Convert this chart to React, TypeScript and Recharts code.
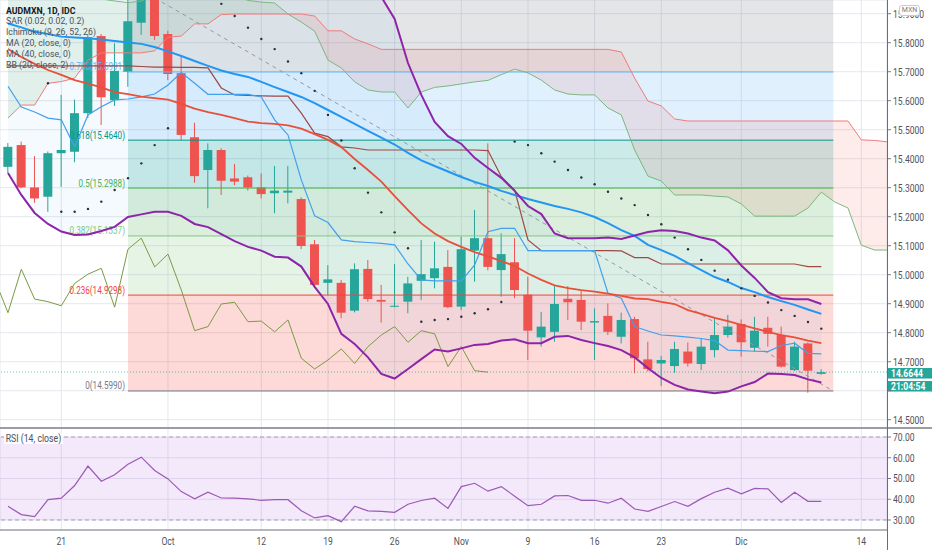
import React from 'react';
import {
  ComposedChart, Line, Area, Bar, XAxis, YAxis, CartesianGrid,
  ReferenceArea, ReferenceLine,
} from 'recharts';

// ---------------- data ----------------
// trading-day index: 0 = Mon 14 Sep 2020 ... 62 = Wed 9 Dec 2020, 63..67 = future bars (cloud only)
const dateTicks = [5, 13, 20, 25, 30, 35, 40, 45, 50, 56, 65];
const dateTickLabels = ['21', 'Oct', '12', '19', '26', 'Nov', '9', '16', '23', 'Dic', '14'];
const priceTicks = [14.5, 14.6, 14.7, 14.8, 14.9, 15.0, 15.1, 15.2, 15.3, 15.4, 15.5, 15.6, 15.7, 15.8, 15.9];
const rsiTicks = [30, 40, 50, 60, 70];

const opens = [null,
  15.372, 15.447, 15.301, 15.269, 15.419, 15.424, 15.557, 15.823, 15.602, 15.700,
  15.869, 16.010, 15.830, 15.695, 15.474, 15.361, 15.430, 15.332, 15.336, 15.301,
  15.281, 15.283, 15.261, 15.105, 14.972, 14.972, 14.876, 15.020, 14.913, 14.890,
  14.907, 14.979, 14.988, 15.027, 14.890, 15.083, 15.126, 15.016, 15.043, 14.931,
  14.784, 14.803, 14.917, 14.913, 14.835, 14.858, 14.786, 14.847, 14.708, 14.694,
  14.685, 14.735, 14.692, 14.740, 14.792, 14.830, 14.748, 14.817, 14.792, 14.671,
  14.763, 14.658];
const closes = [null,
  15.441, 15.301, 15.263, 15.419, 15.430, 15.557, 15.819, 15.612, 15.703, 15.874,
  16.020, 15.823, 15.692, 15.482, 15.340, 15.430, 15.324, 15.321, 15.301, 15.278,
  15.290, 15.290, 15.099, 14.965, 14.984, 14.869, 15.019, 14.916, 14.907, 14.893,
  14.970, 15.002, 15.022, 14.888, 15.088, 15.126, 15.027, 15.071, 14.947, 14.807,
  14.821, 14.899, 14.905, 14.838, 14.840, 14.803, 14.844, 14.712, 14.675, 14.706,
  14.744, 14.694, 14.752, 14.792, 14.821, 14.767, 14.807, 14.796, 14.683, 14.752,
  14.669, 14.664];
const highs = [null,
  15.454, 15.459, 15.409, 15.425, 15.620, 15.604, 15.830, 15.830, 15.798, 15.980,
  16.050, 16.040, 15.841, 15.752, 15.524, 15.453, 15.436, 15.382, 15.342, 15.349,
  15.375, 15.375, 15.267, 15.120, 15.033, 14.982, 15.039, 15.051, 14.965, 15.037,
  14.993, 15.120, 15.114, 15.085, 15.131, 15.223, 15.453, 15.143, 15.126, 14.993,
  14.872, 14.964, 14.961, 14.947, 14.884, 14.901, 14.869, 14.855, 14.769, 14.720,
  14.769, 14.766, 14.781, 14.850, 14.861, 14.846, 14.855, 14.855, 14.821, 14.769,
  14.767, 14.674];
const lows = [null,
  15.351, 15.298, 15.248, 15.217, 15.303, 15.388, 15.540, 15.516, 15.582, 15.648,
  15.827, 15.809, 15.671, 15.464, 15.317, 15.229, 15.275, 15.309, 15.290, 15.263,
  15.212, 15.246, 15.088, 14.960, 14.930, 14.850, 14.870, 14.907, 14.835, 14.888,
  14.867, 14.913, 14.953, 14.885, 14.878, 14.976, 15.015, 14.924, 14.919, 14.706,
  14.752, 14.769, 14.844, 14.809, 14.706, 14.792, 14.763, 14.660, 14.666, 14.616,
  14.662, 14.683, 14.671, 14.715, 14.783, 14.717, 14.735, 14.752, 14.680, 14.668,
  14.593, 14.655];

const ma20 = [null,
  15.778, 15.751, 15.727, 15.706, 15.689, 15.671, 15.659, 15.646, 15.630, 15.623,
  15.614, 15.609, 15.604, 15.589, 15.573, 15.561, 15.551, 15.540, 15.528, 15.523,
  15.520, 15.515, 15.504, 15.485, 15.465, 15.440, 15.399, 15.361, 15.321, 15.271,
  15.223, 15.177, 15.142, 15.116, 15.096, 15.078, 15.063, 15.047, 15.030, 15.004,
  14.982, 14.963, 14.954, 14.947, 14.942, 14.935, 14.927, 14.918, 14.916, 14.906,
  14.899, 14.878, 14.865, 14.851, 14.840, 14.827, 14.815, 14.803, 14.792, 14.784,
  14.773, 14.764];
const ma40 = [null,
  15.866, 15.853, 15.838, 15.830, 15.821, 15.818, 15.815, 15.811, 15.806, 15.801,
  15.796, 15.785, 15.770, 15.754, 15.737, 15.720, 15.704, 15.692, 15.682, 15.665,
  15.647, 15.630, 15.613, 15.592, 15.568, 15.544, 15.520, 15.496, 15.473, 15.449,
  15.420, 15.394, 15.375, 15.356, 15.337, 15.320, 15.306, 15.289, 15.275, 15.261,
  15.249, 15.237, 15.227, 15.215, 15.199, 15.178, 15.154, 15.134, 15.103, 15.085,
  15.065, 15.040, 15.016, 14.992, 14.975, 14.954, 14.940, 14.923, 14.909, 14.896,
  14.880, 14.865];
const bbUpper = [null,
  16.14, 16.15, 16.16, 16.16, 16.16, 16.17, 16.20, 16.22, 16.24, 16.27,
  16.30, 16.32, 16.33, 16.33, 16.33, 16.32, 16.31, 16.30, 16.29, 16.28,
  16.27, 16.26, 16.25, 16.23, 16.20, 16.15, 16.10, 16.03, 15.958, 15.882,
  15.730, 15.620, 15.527, 15.478, 15.451, 15.403, 15.368, 15.334, 15.289, 15.237,
  15.209, 15.142, 15.126, 15.126, 15.126, 15.128, 15.123, 15.135, 15.147, 15.153,
  15.151, 15.142, 15.128, 15.118, 15.084, 15.032, 14.989, 14.940, 14.919, 14.915,
  14.915, 14.899];
const bbLower = [null,
  15.351, 15.275, 15.213, 15.175, 15.149, 15.137, 15.139, 15.151, 15.165, 15.199,
  15.208, 15.217, 15.217, 15.203, 15.175, 15.164, 15.140, 15.116, 15.096, 15.083,
  15.062, 15.059, 15.028, 14.958, 14.899, 14.796, 14.761, 14.715, 14.658, 14.642,
  14.675, 14.709, 14.742, 14.735, 14.746, 14.758, 14.761, 14.773, 14.777, 14.764,
  14.764, 14.786, 14.789, 14.775, 14.764, 14.754, 14.740, 14.715, 14.678, 14.644,
  14.620, 14.604, 14.597, 14.591, 14.597, 14.615, 14.630, 14.659, 14.658, 14.654,
  14.639, 14.628];

const tenkan = [null,
  15.650, 15.578, 15.561, 15.540, 15.534, 15.441, 15.551, 15.579, 15.603, 15.606,
  15.613, 15.623, 15.654, 15.697, 15.660, 15.622, 15.622, 15.622, 15.622, 15.613,
  15.534, 15.482, 15.327, 15.203, 15.180, 15.120, 15.114, 15.111, 15.108, 15.103,
  15.037, 14.982, 14.979, 14.979, 14.979, 15.034, 15.148, 15.160, 15.160, 15.083,
  15.083, 15.083, 15.083, 15.083, 15.083, 14.936, 14.919, 14.821, 14.806, 14.792,
  14.789, 14.785, 14.780, 14.773, 14.740, 14.738, 14.736, 14.735, 14.756, 14.764,
  14.729, 14.727];
const kijun = [null,
  15.720, 15.720, 15.720, 15.720, 15.720, 15.720, 15.720, 15.720, 15.720, 15.720,
  15.718, 15.716, 15.716, 15.715, 15.715, 15.713, 15.644, 15.620, 15.618, 15.617,
  15.616, 15.616, 15.557, 15.488, 15.476, 15.441, 15.437, 15.430, 15.430, 15.430,
  15.430, 15.430, 15.430, 15.430, 15.430, 15.430, 15.428, 15.338, 15.292, 15.120,
  15.083, 15.083, 15.083, 15.083, 15.083, 15.083, 15.082, 15.059, 15.059, 15.037,
  15.037, 15.037, 15.037, 15.037, 15.037, 15.037, 15.037, 15.037, 15.037, 15.037,
  15.028, 15.028];
const chikou = [
  14.984, 14.869, 15.019, 14.916, 14.907, 14.893, 14.970, 15.002, 15.022, 14.888,
  15.088, 15.126, 15.027, 15.071, 14.947, 14.807, 14.821, 14.899, 14.905, 14.838,
  14.840, 14.803, 14.844, 14.712, 14.675, 14.706, 14.744, 14.694, 14.752, 14.792,
  14.821, 14.767, 14.807, 14.796, 14.683, 14.752, 14.669, 14.664];
const spanA = [null,
  16.03, 16.04, 16.05, 16.05, 16.03, 16.00, 15.97, 15.951, 15.944, 15.938,
  15.944, 15.965, 16.00, 16.02, 16.02, 16.00, 15.98, 15.96, 15.946, 15.940,
  15.937, 15.899, 15.871, 15.840, 15.740, 15.713, 15.665, 15.637, 15.630, 15.630,
  15.575, 15.630, 15.646, 15.651, 15.658, 15.665, 15.670, 15.690, 15.709, 15.696,
  15.671, 15.637, 15.623, 15.620, 15.620, 15.575, 15.551, 15.430, 15.340, 15.323,
  15.275, 15.275, 15.275, 15.271, 15.268, 15.244, 15.202, 15.202, 15.202, 15.202,
  15.230, 15.285, 15.251, 15.230, 15.102, 15.085, 15.085];
const spanB = [null,
  15.540, 15.585, 15.585, 15.660, 15.666, 15.678, 15.740, 15.765, 15.765, 15.765,
  15.765, 15.772, 15.819, 15.823, 15.865, 15.865, 15.897, 15.899, 15.899, 15.899,
  15.899, 15.899, 15.899, 15.892, 15.841, 15.841, 15.813, 15.796, 15.777, 15.777,
  15.777, 15.777, 15.777, 15.777, 15.777, 15.777, 15.777, 15.777, 15.777, 15.777,
  15.777, 15.777, 15.777, 15.777, 15.777, 15.777, 15.768, 15.678, 15.599, 15.582,
  15.537, 15.530, 15.530, 15.530, 15.530, 15.530, 15.530, 15.530, 15.530, 15.530,
  15.530, 15.530, 15.530, 15.530, 15.465, 15.463, 15.458];
const sar = [null,
  null, null, null, 15.660, 15.217, 15.217, 15.227, 15.252, 15.292, 15.333,
  15.384, 15.447, 15.505, null, null, null, 15.934, 15.892, 15.852, 15.813,
  15.778, 15.735, 15.695, 15.634, 15.551, 15.463, 15.367, 15.283, 15.215, 15.146,
  15.091, 14.838, 14.844, 14.847, 14.855, 14.867, 14.881, 14.906, 15.459, 15.447,
  15.419, 15.390, 15.361, 15.335, 15.312, 15.286, 15.263, 15.240, 15.206, 15.174,
  15.128, 15.088, 15.051, 15.014, 14.983, 14.953, 14.927, 14.904, 14.878, 14.858,
  14.837, 14.814];
const rsi = [null,
  36.6, 32.6, 31.6, 39.8, 40.5, 46.6, 56.0, 48.7, 51.8, 56.9,
  60.3, 53.9, 49.8, 43.7, 40.2, 43.4, 40.6, 40.5, 40.2, 39.5,
  39.8, 39.8, 34.5, 31.0, 32.1, 29.2, 36.6, 34.4, 34.2, 33.7,
  37.6, 39.4, 40.5, 35.6, 46.1, 47.7, 43.9, 46.1, 41.5, 36.9,
  37.6, 41.6, 41.8, 39.5, 39.5, 38.1, 40.5, 35.3, 34.2, 36.5,
  38.9, 36.6, 40.3, 43.4, 45.3, 42.6, 45.2, 45.0, 38.5, 43.4,
  39.0, 39.0];

// Fibonacci retracement drawing
const fibPrices = [14.599, 14.9298, 15.1337, 15.2988, 15.464, 15.6991, 15.9986];
const fibLabels = ['0(14.5990)', '0.236(14.9298)', '0.382(15.1337)', '0.5(15.2988)', '0.618(15.4640)', '0.786(15.6991)', '1(15.9986)'];
const fibFrom = 10;
const fibTo = 62.9;
// dashed trend line drawing
const trendFrom = { i: 11.5, p: 15.968 };
const trendTo = { i: 62.9, p: 14.599 };
const lastPrice = 14.6644;
const countdown = '21:04:54';

// ---------------- styles / layout ----------------
const fibColors = ['#787b86', '#f44336', '#81c784', '#4caf50', '#009688', '#64b5f6', '#787b86'];
const UP = '#26a69a';
const DOWN = '#ef5350';
const FONT = 'Roboto, "Liberation Sans", sans-serif';
const X_DOMAIN = [0.40125, 66.926];
const PRICE_DOMAIN = [14.4714, 15.9473];
const RSI_DOMAIN = [25.18, 74.34];
const GRID = '#e4e7ed';
const TXT = '#50535e';
const SX = 0.78;
const FIB_SX = 0.74;
const LEG_SX = 0.95;

const rows = Array.from({ length: spanA.length }, (_, i) => {
  const o = opens[i] ?? null;
  const a = spanA[i] ?? null;
  const b = spanB[i] ?? null;
  const up = bbUpper[i] ?? null;
  const lo = bbLower[i] ?? null;
  return {
    i,
    open: o,
    close: closes[i] ?? null,
    high: highs[i] ?? null,
    low: lows[i] ?? null,
    hl: o == null ? null : [lows[i], highs[i]],
    ma20: ma20[i] ?? null,
    ma40: ma40[i] ?? null,
    bbUpper: up,
    bbLower: lo,
    bbBand: up == null || lo == null ? null : [lo, up],
    tenkan: tenkan[i] ?? null,
    kijun: kijun[i] ?? null,
    chikou: chikou[i] ?? null,
    spanA: a,
    spanB: b,
    cloudUp: a != null && b != null && a >= b ? [b, a] : null,
    cloudDown: a != null && b != null && a <= b ? [a, b] : null,
    sar: sar[i] ?? null,
    rsi: rsi[i] ?? null,
  };
});

function Candle(props: any) {
  const { x, y, width, height, payload } = props;
  if (!payload || payload.open == null) return null;
  const { open, close, high, low } = payload;
  const top = Math.min(y, y + height);
  const h = Math.abs(height);
  const k = high > low ? h / (high - low) : 0;
  const py = (p: number) => top + (high - p) * k;
  const color = close >= open ? UP : DOWN;
  const cx = x + width / 2;
  const bTop = py(Math.max(open, close));
  const bBot = py(Math.min(open, close));
  return (
    <g>
      <line x1={cx} x2={cx} y1={top} y2={top + h} stroke={color} strokeWidth={1} />
      <rect x={x} y={bTop} width={width} height={Math.max(1, bBot - bTop)} fill={color} />
    </g>
  );
}

function FibLabel(props: any) {
  const { viewBox, txt, color } = props;
  if (!viewBox) return null;
  const x = viewBox.x - 3;
  const y = viewBox.y - 1.5;
  return (
    <text transform={`translate(${x},${y}) scale(${FIB_SX},1)`} textAnchor="end"
      fontSize={11} fill={color} fontFamily={FONT}>{txt}</text>
  );
}

function LastPriceLabel(props: any) {
  const { viewBox } = props;
  if (!viewBox) return null;
  const x = viewBox.x + viewBox.width + 1;
  const y = viewBox.y;
  return (
    <g>
      <rect x={x} y={y - 4} width={45} height={10.5} fill={UP} />
      <text transform={`translate(${x + 3},${y + 1.3}) scale(${SX},1)`} dy="0.35em"
        fontSize={11} fontWeight={700} fill="#fff" fontFamily={FONT}>{lastPrice.toFixed(4)}</text>
      <rect x={x} y={y + 9} width={45} height={10.5} fill={UP} />
      <text transform={`translate(${x + 3},${y + 14.3}) scale(${SX},1)`} dy="0.35em"
        fontSize={11} fontWeight={700} fill="#fff" fontFamily={FONT}>{countdown}</text>
    </g>
  );
}

function PriceTick(props: any) {
  const { x, y, payload } = props;
  if (Math.abs(payload.value - 14.6) < 1e-6) return null;
  return (
    <text transform={`translate(${x},${y}) scale(${SX},1)`} dy="0.35em" textAnchor="start"
      fontSize={11} fill={TXT} fontFamily={FONT}>{Number(payload.value).toFixed(4)}</text>
  );
}

function RsiTick(props: any) {
  const { x, y, payload } = props;
  return (
    <text transform={`translate(${x},${y}) scale(${SX},1)`} dy="0.35em" textAnchor="start"
      fontSize={11} fill={TXT} fontFamily={FONT}>{Number(payload.value).toFixed(2)}</text>
  );
}

function DateTick(props: any) {
  const { x, y, payload } = props;
  const k = dateTicks.indexOf(payload.value);
  return (
    <text transform={`translate(${x},${y}) scale(${SX},1)`} dy="0.71em" textAnchor="middle"
      fontSize={11} fill={TXT} fontFamily={FONT}>{k >= 0 ? dateTickLabels[k] : ''}</text>
  );
}

const legendLines = [
  'SAR (0.02, 0.02, 0.2)',
  'Ichimoku (9, 26, 52, 26)',
  'MA (20, close, 0)',
  'MA (40, close, 0)',
  'BB (20, close, 2)',
];

export default function App() {
  return (
    <div style={{ position: 'absolute', left: 0, top: 0, width: 932, height: 550, background: '#fff', overflow: 'hidden', fontFamily: FONT }}>
      <div style={{ position: 'absolute', left: 0, top: 0 }}>
        <ComposedChart width={932} height={428} data={rows} margin={{ top: 0, right: 0, bottom: 0, left: 0 }}>
          <CartesianGrid stroke={GRID} strokeWidth={1} />
          <XAxis dataKey="i" type="number" domain={X_DOMAIN} allowDataOverflow ticks={dateTicks} interval={0} hide />
          <YAxis orientation="right" width={45} domain={PRICE_DOMAIN} allowDataOverflow ticks={priceTicks}
            interval={0} axisLine={false} tickLine={{ stroke: '#787b86' }} tickSize={4} tickMargin={2} tick={<PriceTick />} />

          {fibPrices.slice(0, -1).map((p, k) => (
            <ReferenceArea key={'fa' + k} x1={fibFrom} x2={fibTo} y1={p} y2={fibPrices[k + 1]}
              fill={fibColors[k + 1]} fillOpacity={0.2} stroke="none" ifOverflow="hidden" />
          ))}

          <Area dataKey="cloudUp" type="linear" stroke="none" fill="#43a047" fillOpacity={0.1} isAnimationActive={false} connectNulls={false} activeDot={false} />
          <Area dataKey="cloudDown" type="linear" stroke="none" fill="#f44336" fillOpacity={0.1} isAnimationActive={false} connectNulls={false} activeDot={false} />
          <Area dataKey="bbBand" type="linear" stroke="none" fill="#2196f3" fillOpacity={0.05} isAnimationActive={false} connectNulls={false} activeDot={false} />

          {fibPrices.slice(0, -1).map((p, k) => (
            <ReferenceLine key={'fl' + k} segment={[{ x: fibFrom, y: p }, { x: fibTo, y: p }]}
              stroke={fibColors[k]} strokeWidth={1} ifOverflow="hidden"
              label={<FibLabel txt={fibLabels[k]} color={fibColors[k]} />} />
          ))}
          <ReferenceLine segment={[{ x: trendFrom.i, y: trendFrom.p }, { x: trendTo.i, y: trendTo.p }]}
            stroke="#9598a1" strokeDasharray="4 4" strokeWidth={1} ifOverflow="hidden" />
          <ReferenceLine y={lastPrice} stroke={UP} strokeOpacity={0.7} strokeDasharray="1 2" strokeWidth={1} label={<LastPriceLabel />} />

          <Bar dataKey="hl" barSize={9} shape={<Candle />} isAnimationActive={false} />

          <Line dataKey="spanA" type="linear" stroke="#7cb87f" strokeWidth={1} dot={false} activeDot={false} isAnimationActive={false} />
          <Line dataKey="spanB" type="linear" stroke="#ef7b7b" strokeWidth={1} dot={false} activeDot={false} isAnimationActive={false} />
          <Line dataKey="chikou" type="linear" stroke="#7a9a45" strokeWidth={1} dot={false} activeDot={false} isAnimationActive={false} />
          <Line dataKey="kijun" type="linear" stroke="#9c4a45" strokeWidth={1.2} dot={false} activeDot={false} isAnimationActive={false} />
          <Line dataKey="tenkan" type="linear" stroke="#42a0ec" strokeWidth={1.2} dot={false} activeDot={false} isAnimationActive={false} />
          <Line dataKey="ma20" type="linear" stroke="#e8503a" strokeWidth={1.8} dot={false} activeDot={false} isAnimationActive={false} />
          <Line dataKey="ma40" type="linear" stroke="#2196f3" strokeWidth={2} dot={false} activeDot={false} isAnimationActive={false} />
          <Line dataKey="bbUpper" type="linear" stroke="#8e24aa" strokeWidth={2} dot={false} activeDot={false} isAnimationActive={false} />
          <Line dataKey="bbLower" type="linear" stroke="#8e24aa" strokeWidth={2} dot={false} activeDot={false} isAnimationActive={false} />
          <Line dataKey="sar" type="linear" stroke="none" dot={{ r: 1.2, fill: '#2a2e39', stroke: 'none' }} activeDot={false} isAnimationActive={false} />
        </ComposedChart>
      </div>

      <div style={{ position: 'absolute', left: 0, top: 428 }}>
        <ComposedChart width={932} height={122} data={rows} margin={{ top: 0, right: 0, bottom: 0, left: 0 }}>
          <CartesianGrid stroke={GRID} strokeWidth={1} />
          <XAxis dataKey="i" type="number" domain={X_DOMAIN} allowDataOverflow ticks={dateTicks} interval={0}
            height={20} axisLine={{ stroke: '#787b86' }} tickLine={false} tickSize={4} tickMargin={3} tick={<DateTick />} />
          <YAxis orientation="right" width={45} domain={RSI_DOMAIN} allowDataOverflow ticks={rsiTicks} interval={0}
            axisLine={false} tickLine={{ stroke: '#787b86' }} tickSize={4} tickMargin={2} tick={<RsiTick />} />
          <ReferenceArea y1={30} y2={70} fill="#b36ae2" fillOpacity={0.15} stroke="none" />
          <ReferenceLine y={70} stroke="#a69db5" strokeDasharray="4 3" />
          <ReferenceLine y={30} stroke="#a69db5" strokeDasharray="4 3" />
          <Line dataKey="rsi" type="linear" stroke="#9b59b6" strokeWidth={1.2} dot={false} activeDot={false} isAnimationActive={false} />
        </ComposedChart>
      </div>

      {/* pane chrome */}
      <div style={{ position: 'absolute', left: 0, top: 426.5, width: 932, height: 2, background: '#9a9da6' }} />
      <div style={{ position: 'absolute', left: 887, top: 0, width: 1, height: 550, background: '#6a6d78' }} />

      {/* currency badge */}
      <div style={{ position: 'absolute', left: 899, top: 5, width: 21, height: 11, boxSizing: 'border-box', border: '1px solid #c9ccd3', borderRadius: 3, background: '#fff', fontSize: 7, lineHeight: '9px', textAlign: 'center', color: '#787b86' }}>MXN</div>

      {/* legends */}
      <div style={{ position: 'absolute', left: 6, top: 5.5, fontSize: 9.2, lineHeight: '10.9px', color: '#4c525e', transform: `scaleX(${LEG_SX})`, transformOrigin: '0 0', whiteSpace: 'nowrap' }}>
        <div style={{ color: '#131722', fontWeight: 700 }}>AUDMXN, 1D, IDC</div>
        {legendLines.map((t) => <div key={t}>{t}</div>)}
      </div>
      <div style={{ position: 'absolute', left: 4, top: 433, padding: '0 2px', fontSize: 10.5, lineHeight: '11px', color: '#4c525e', background: 'rgba(255,255,255,0.85)', transform: 'scaleX(0.83)', transformOrigin: '0 0', whiteSpace: 'nowrap' }}>
        RSI (14, close)
      </div>
    </div>
  );
}
